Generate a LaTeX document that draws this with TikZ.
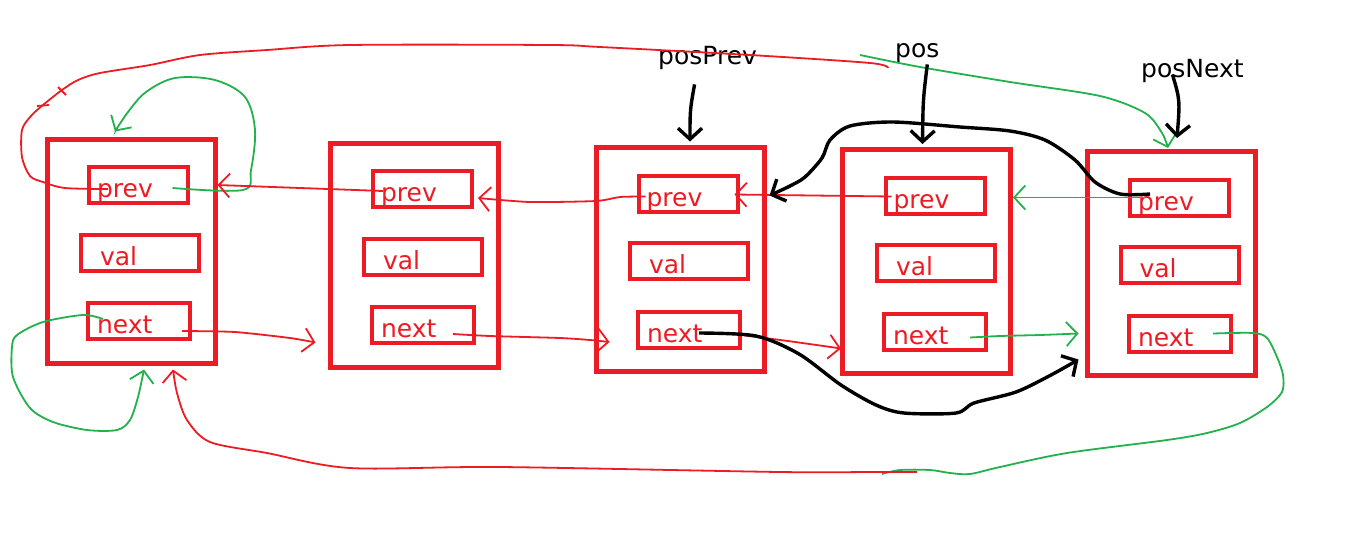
\documentclass[tikz,border=0pt]{standalone}
\usepackage{fontspec}
\setmainfont{DejaVu Sans}
\usetikzlibrary{arrows.meta}
\definecolor{pr}{HTML}{ED1C24}
\definecolor{pg}{HTML}{22B14C}
\begin{document}
\begin{tikzpicture}[x=1pt,y=-1pt,
  outerbox/.style={draw=pr,line width=5pt,minimum width=168pt,minimum height=224pt,inner sep=0pt},
  field/.style={draw=pr,line width=4pt,minimum height=36pt,inner ysep=0pt,text height=27pt,text depth=2pt,align=left,text=pr,font=\fontsize{25}{28}\selectfont},
  pf/.style={field,inner xsep=8pt,text width=83pt},
  vf/.style={field,inner xsep=19pt,text width=80pt},
  nf/.style={field,inner xsep=9pt,text width=84pt},
  rl/.style={draw=pr,line width=1.8pt},
  gl/.style={draw=pg,line width=1.8pt},
  bl/.style={draw=black,line width=3.4pt},
  tip/.style={-{Straight Barb[length=11pt,width=24pt]}},
  ptr/.style={font=\fontsize{25}{28}\selectfont,inner sep=0pt,anchor=base west}
]
\fill[white] (0,0) rectangle (1348,539);
\useasboundingbox (0,0) rectangle (1348,539);

% outer boxes
\node[outerbox] (n1) at (131,251) {};
\node[outerbox] (n2) at (414,255.5) {};
\node[outerbox] (n3) at (680,259) {};
\node[outerbox] (n4) at (926.5,261.5) {};
\node[outerbox] (n5) at (1171,263.5) {};

% fields
\node[pf] (p1) at (138.5,185) {prev};
\node[vf] (v1) at (140,252.5) {val};
\node[nf] (x1) at (139,321) {next};
\node[pf] (p2) at (422.5,189) {prev};
\node[vf] (v2) at (423,257) {val};
\node[nf] (x2) at (423,325) {next};
\node[pf] (p3) at (688,193.5) {prev};
\node[vf] (v3) at (689,261) {val};
\node[nf] (x3) at (689,329.5) {next};
\node[pf] (p4) at (935,195.5) {prev};
\node[vf] (v4) at (936,263) {val};
\node[nf] (x4) at (935,331.5) {next};
\node[pf] (p5) at (1179.5,197.5) {prev};
\node[vf] (v5) at (1179.5,265) {val};
\node[nf] (x5) at (1180,333.5) {next};

% pointer labels
\node[ptr] (lpp) at (658,64) {posPrev};
\node[ptr] (lpos) at (895,57) {pos};
\node[ptr] (lpn) at (1141,77) {posNext};

% free ends of the split top and bottom curves
\coordinate (rt) at (888,68);
\coordinate (gt) at (860,55);
\coordinate (gb) at (882,474);
\coordinate (rb) at (917,472);

% red top curve (head prev -> around)
\draw[rl] plot[smooth,tension=0.5] coordinates {([xshift=21pt,yshift=-4pt]p1.west) (65,188) (43,182) (30,176) (22,157) (22,130) (31,116) (43,105) (62,90) (78,80) (100,73) (150,65) (200,55) (267,50) (350,45) (550,45) (600,47) (750,55) (870,63) (rt)};
\draw[rl] (58,87) -- (66,95);
\draw[rl] (37,106) -- (49,105);

% green top curve to node 5
\draw[gl,tip] plot[smooth,tension=0.5] coordinates {(gt) (920,67) (1010,82) (1100,96) (1145,113) (1162,133) ([xshift=-3pt,yshift=1pt]n5.north)};

% green loop on node 1 top
\draw[gl,tip] plot[smooth,tension=0.55] coordinates {([xshift=34pt,yshift=-3pt]p1.center) (243,190) (251,170) (255,130) (245,97) (215,80) (175,78) (146,92) (128,112) ([xshift=-16pt,yshift=5pt]n1.north)};

% prev links
\draw[rl,tip] ([xshift=12pt,yshift=-2pt]p2.west) -- (n1.east |- p1.center);
\draw[rl,tip] plot[smooth,tension=0.4] coordinates {([xshift=9pt,yshift=-3pt]p3.west) (620,197) (596,201) (530,202) ([xshift=4pt,yshift=-9pt]p2.east)};
\draw[rl,tip] ([xshift=8pt,yshift=-1pt]p4.west) -- ([xshift=-5pt,yshift=-1pt]p3.east);
\draw[gl,tip] ([xshift=17pt]p5.west) -- (p5.west -| n4.east);

% next links
\draw[rl,tip] plot[smooth,tension=0.4] coordinates {([xshift=43pt,yshift=-10pt]x1.center) (235,332) (290,338) ([xshift=-12pt,yshift=-87pt]n2.west)};
\draw[rl,tip] plot[smooth,tension=0.4] coordinates {([xshift=30pt,yshift=-9pt]x2.center) (490,336) (560,338) (590,340) ([xshift=16pt,yshift=-83pt]n3.west)};
\draw[rl,tip] plot[smooth,tension=0.4] coordinates {([xshift=56pt,yshift=-6pt]x3.center) (788,341) ([xshift=1pt,yshift=-87pt]n4.west)};
\draw[gl,tip] plot[smooth,tension=0.4] coordinates {([xshift=35pt,yshift=-6pt]x4.center) (1000,336) (1040,335) ([xshift=-6pt,yshift=-70pt]n5.west)};

% green from node 5 next around the bottom
\draw[gl] plot[smooth,tension=0.5] coordinates {([xshift=33pt]x5.center) (1253,333) (1267,338) (1277,357) (1283,375) (1282,392) (1267,407) (1240,423) (1207,433) (1167,440) (1067,453) (1000,467) (970,474) (950,473) (930,470) (900,470) (gb)};
% red bottom into node 1
\draw[rl,tip] plot[smooth,tension=0.5] coordinates {(rb) (870,472) (780,472) (500,467) (350,468) (267,453) (210,442) (187,420) (177,393) ([xshift=42pt,yshift=-4pt]n1.south)};
% green loop on node 1 bottom
\draw[gl,tip] plot[smooth,tension=0.5] coordinates {([xshift=-36pt,yshift=2pt]x1.center) (83,315) (43,322) (17,335) (12,347) (13,377) (30,408) (53,422) (87,430) (117,430) (130,420) (138,397) ([xshift=13pt,yshift=-4pt]n1.south)};

% black links
\draw[bl,tip] plot[smooth,tension=0.5] coordinates {([xshift=22pt,yshift=3.5pt]p5.west) (1120,194) (1095,182) (1075,160) (1045,140) (1010,131) (960,127) (893,122) (850,126) (830,140) (822,158) (805,177) (790,186) ([xshift=30pt,yshift=-2pt]p3.east)};
\draw[bl,tip] plot[smooth,tension=0.5] coordinates {([xshift=10pt,yshift=-3.5pt]x3.center) (756,336) (799,354) (841,385) (876,405) (904,413) (956,413) (974,403) (1016,392) (1051,375) ([xshift=-6pt,yshift=-96pt]n5.west)};

% pointers
\draw[bl,tip] ([xshift=-13pt,yshift=-15pt]lpp.south) .. controls (690,110) .. ([xshift=10pt,yshift=3pt]n3.north);
\draw[bl,tip] ([xshift=10pt,yshift=-2pt]lpos.south) .. controls (923,100) .. ([xshift=-4pt,yshift=3pt]n4.north);
\draw[bl,tip] ([xshift=-20pt,yshift=8pt]lpn.south) .. controls (1180,100) .. ([xshift=6pt,yshift=11pt]n5.north);
\end{tikzpicture}
\end{document}
